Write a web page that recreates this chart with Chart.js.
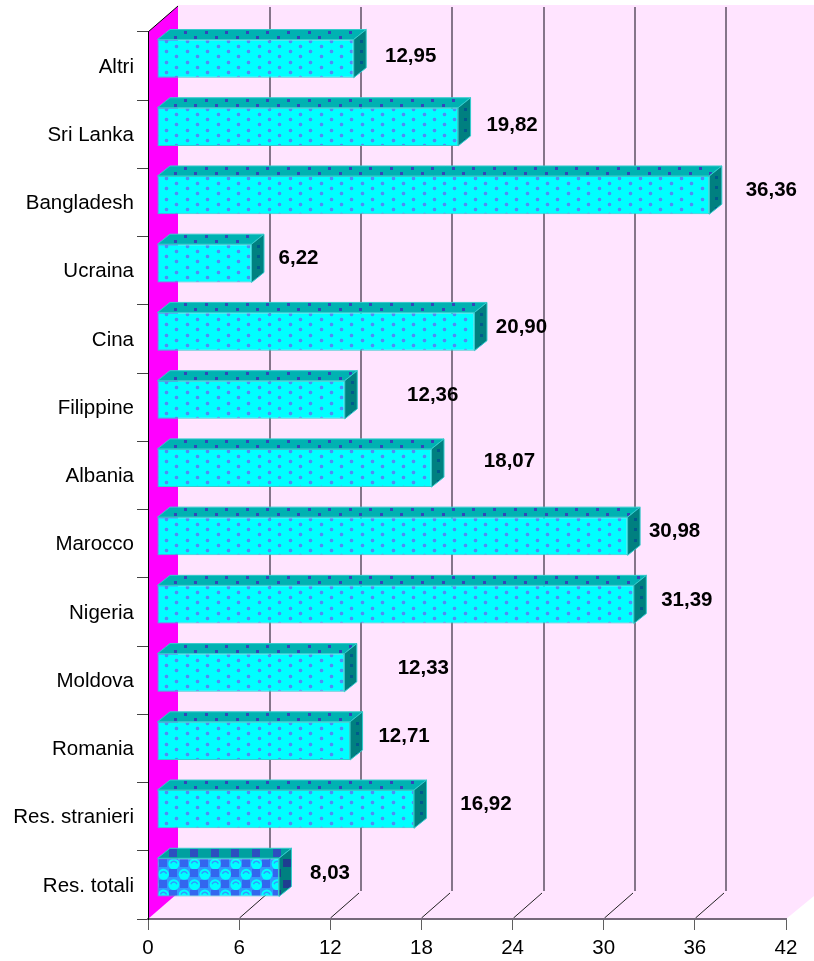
<!DOCTYPE html>
<html>
<head>
<meta charset="utf-8">
<title>Grafico</title>
<script src="https://cdn.jsdelivr.net/npm/chart.js@4"></script>
<style>
    html, body { margin: 0; padding: 0; background: #ffffff; }
    canvas { display: block; }
</style>
</head>
<body>
<canvas id="grafico" width="814" height="961"></canvas>
<script>
const categorie = ["Altri", "Sri Lanka", "Bangladesh", "Ucraina", "Cina", "Filippine", "Albania",
    "Marocco", "Nigeria", "Moldova", "Romania", "Res. stranieri", "Res. totali"];
const valori = [12.95, 19.82, 36.36, 6.22, 20.90, 12.36, 18.07, 30.98, 31.39, 12.33, 12.71, 16.92, 8.03];
const tickX = [0, 6, 12, 18, 24, 30, 36, 42];

// le etichette nell'originale non sono allineate: scostamento dal valore, in px
const shiftEtichettaX = [66, 63, 71, 56, 56, 97, 87, 56, 62, 88, 63, 81, 60];
const shiftEtichettaY = [-10, -9, -12, -12, -12, -12, -14, -12, -12, -12, -12, -12, -12];

const FONT = '"Liberation Sans", Arial, sans-serif';
const PROF_X = 30, PROF_Y = 26;      // profondita' delle pareti
const BAR_DX = 9, BAR_DY = -7.5;     // barra a meta' della profondita'
const TOP_X = 12.5, TOP_Y = 10;      // profondita' della barra

function nuovoTile(w, h, disegna) {
    const c = document.createElement("canvas");
    c.width = w;
    c.height = h;
    disegna(c.getContext("2d"));
    return c;
}

// puntini sfalsati, passo 20.6 x 5.15 (centro del primo a +3,+3 nel tile)
function tilePuntini(base, alone, punto, quadrato) {
    return nuovoTile(103, 103, g => {
        g.fillStyle = base;
        g.fillRect(0, 0, 103, 103);
        for (let r = 0; r < 20; r++) {
            for (let k = 0; k < 5; k++) {
                const x = Math.round(k * 20.6 + (r % 2) * 10.3) + 3;
                const y = Math.round(r * 5.15) + 3;
                if (quadrato) {
                    g.fillStyle = punto;
                    g.fillRect(x - 1, y - 1, 3, 3);
                } else {
                    g.fillStyle = alone;
                    g.fillRect(x, y - 2, 1, 5);
                    g.fillRect(x - 2, y, 5, 1);
                    g.fillStyle = punto;
                    g.fillRect(x - 1, y - 1, 3, 3);
                }
            }
        }
    });
}

// scacchi con cerchi per "Res. totali"
function tileScacchi(base, cerchio, quadrato) {
    return nuovoTile(62, 62, g => {
        g.fillStyle = base;
        g.fillRect(0, 0, 62, 62);
        for (let r = -1; r < 7; r++) {
            for (let k = -1; k < 7; k++) {
                const x = k * 10.33, y = r * 10.33;
                if ((r + k + 2) % 2 === 0) {
                    g.fillStyle = quadrato;
                    g.fillRect(Math.round(x - 4), Math.round(y - 4), 8, 8);
                } else if (cerchio) {
                    g.fillStyle = cerchio;
                    g.beginPath();
                    g.arc(x + 0.5, y + 1, 5.5, 0, Math.PI * 2);
                    g.fill();
                    // mezzaluna azzurra sopra ogni cerchio
                    g.strokeStyle = base;
                    g.lineWidth = 1.5;
                    g.beginPath();
                    g.arc(x + 0.5, y + 1.5, 3.2, Math.PI * 1.1, Math.PI * 1.9);
                    g.stroke();
                }
            }
        }
    });
}

const ctx = document.getElementById("grafico").getContext("2d");

const tiles = {
    fronte: tilePuntini("#00ffff", "#33ccff", "#4a90f5", false),
    sopra: tilePuntini("#00b2b2", "", "#3344bb", true),
    lato: tilePuntini("#008080", "", "#005a8c", true),
    fronteTot: tileScacchi("#3399ff", "#00ffff", "#3366ee"),
    sopraTot: tileScacchi("#00a0a0", null, "#2d4fc0"),
    latoTot: tileScacchi("#008080", null, "#1f3d90")
};

// x, y in pixel di pagina: il contesto e' traslato quando si riempie una barra
function pattern(tile, x, y) {
    const p = ctx.createPattern(tile, "repeat");
    p.setTransform(new DOMMatrix().translate(Math.round(x) - BAR_DX, Math.round(y) - BAR_DY));
    return p;
}

function coloreFronte(c) {
    const i = c.dataIndex;
    if (i === undefined) return "#00ffff";
    const top = c.chart.scales.y.getPixelForValue(i) + BAR_DY - 19;
    if (i === categorie.length - 1) return pattern(tiles.fronteTot, 163, top + 5);
    return pattern(tiles.fronte, 163, top - 1.5);
}

// pareti e griglia, sotto a tutto
const pareti = {
    id: "pareti",
    beforeDraw(chart) {
        const g = chart.ctx, x = chart.scales.x, a = chart.chartArea;
        g.save();
        g.fillStyle = "#ffe4ff";
        g.beginPath();
        g.moveTo(a.left + PROF_X, 5);
        g.lineTo(814, 5);
        g.lineTo(814, a.bottom - PROF_Y + 3);
        g.lineTo(a.right, a.bottom);
        g.lineTo(a.left, a.bottom);
        g.lineTo(a.left + PROF_X, a.bottom - PROF_Y);
        g.closePath();
        g.fill();

        g.fillStyle = "#ff00ff";
        g.beginPath();
        g.moveTo(a.left, a.top);
        g.lineTo(a.left + PROF_X, a.top - PROF_Y);
        g.lineTo(a.left + PROF_X, a.bottom - PROF_Y);
        g.lineTo(a.left, a.bottom);
        g.closePath();
        g.fill();

        g.strokeStyle = "#000000";
        g.lineWidth = 1;
        g.beginPath();
        g.moveTo(a.left, a.top);
        g.lineTo(a.left + PROF_X, a.top - PROF_Y);
        g.stroke();

        tickX.slice(1, -1).forEach(v => {
            const px = Math.round(x.getPixelForValue(v));
            g.strokeStyle = "#85758a";
            g.lineWidth = 2;
            g.beginPath();
            g.moveTo(px + PROF_X + 1, 7);
            g.lineTo(px + PROF_X + 1, a.bottom - 28);
            g.stroke();
            g.strokeStyle = "#222222";
            g.lineWidth = 1;
            g.beginPath();
            g.moveTo(px + 0.5, a.bottom - 1);
            g.lineTo(px + PROF_X - 1, a.bottom - PROF_Y);
            g.stroke();
        });
        g.restore();
    },
    beforeDatasetDraw(chart) {
        chart.ctx.save();
        chart.ctx.translate(BAR_DX, BAR_DY);
    },
    afterDatasetDraw(chart, args) {
        const g = chart.ctx;
        args.meta.data.forEach((bar, i) => {
            const tot = i === categorie.length - 1;
            const top = bar.y - bar.height / 2, bottom = bar.y + bar.height / 2;
            const x0 = bar.base, x1 = bar.x;
            const topPag = top + BAR_DY, x1Pag = x1 + BAR_DX;
            g.strokeStyle = "#33cccc";
            g.lineWidth = 1;

            g.fillStyle = tot ? pattern(tiles.sopraTot, 163, topPag + 5) : pattern(tiles.sopra, 182, topPag - 11);
            g.beginPath();
            g.moveTo(x0, top);
            g.lineTo(x0 + TOP_X, top - TOP_Y);
            g.lineTo(x1 + TOP_X, top - TOP_Y);
            g.lineTo(x1, top);
            g.closePath();
            g.fill();
            g.stroke();

            g.fillStyle = tot ? pattern(tiles.latoTot, 163, topPag + 5) : pattern(tiles.lato, x1Pag + 4, topPag - 1.5);
            g.beginPath();
            g.moveTo(x1, top);
            g.lineTo(x1 + TOP_X, top - TOP_Y);
            g.lineTo(x1 + TOP_X, bottom - TOP_Y);
            g.lineTo(x1, bottom);
            g.closePath();
            g.fill();
            g.stroke();
        });
        g.restore();
    },
    afterDraw(chart) {
        const g = chart.ctx, x = chart.scales.x, y = chart.scales.y;
        g.save();
        g.font = "bold 20.5px " + FONT;
        g.fillStyle = "#000000";
        g.textAlign = "center";
        g.textBaseline = "middle";
        valori.forEach((v, i) => {
            const testo = v.toFixed(2).replace(".", ",");
            g.fillText(testo, x.getPixelForValue(v) + shiftEtichettaX[i], y.getPixelForValue(i) + shiftEtichettaY[i]);
        });
        g.restore();
    }
};

new Chart(ctx, {
    type: "bar",
    plugins: [pareti],
    data: {
        labels: categorie,
        datasets: [{
            data: valori,
            backgroundColor: coloreFronte,
            borderColor: "#33cccc",
            borderWidth: 1,
            borderSkipped: false,
            categoryPercentage: 1,
            barPercentage: 0.56,
            clip: false
        }]
    },
    options: {
        indexAxis: "y",
        responsive: false,
        animation: false,
        layout: { padding: { top: 32, right: 28, left: 0, bottom: 0 } },
        plugins: { legend: { display: false }, tooltip: { enabled: false } },
        scales: {
            x: {
                min: 0,
                max: 42,
                afterFit(s) { s.height = 42; },
                afterBuildTicks(s) { s.ticks = tickX.map(v => ({ value: v })); },
                border: { color: "#75697a", width: 2 },
                grid: { drawOnChartArea: false, color: "#5f5f5f", tickLength: 11 },
                ticks: { color: "#000000", font: { family: FONT, size: 20.5 }, padding: 6, maxRotation: 0 }
            },
            y: {
                afterFit(s) { s.width = 148; },
                border: { color: "#000000", width: 1 },
                grid: { offset: true, drawOnChartArea: false, color: "#444444", tickLength: 11 },
                ticks: { color: "#000000", font: { family: FONT, size: 20.5 }, padding: 3, autoSkip: false, labelOffset: 1 }
            }
        }
    }
});
</script>
</body>
</html>
